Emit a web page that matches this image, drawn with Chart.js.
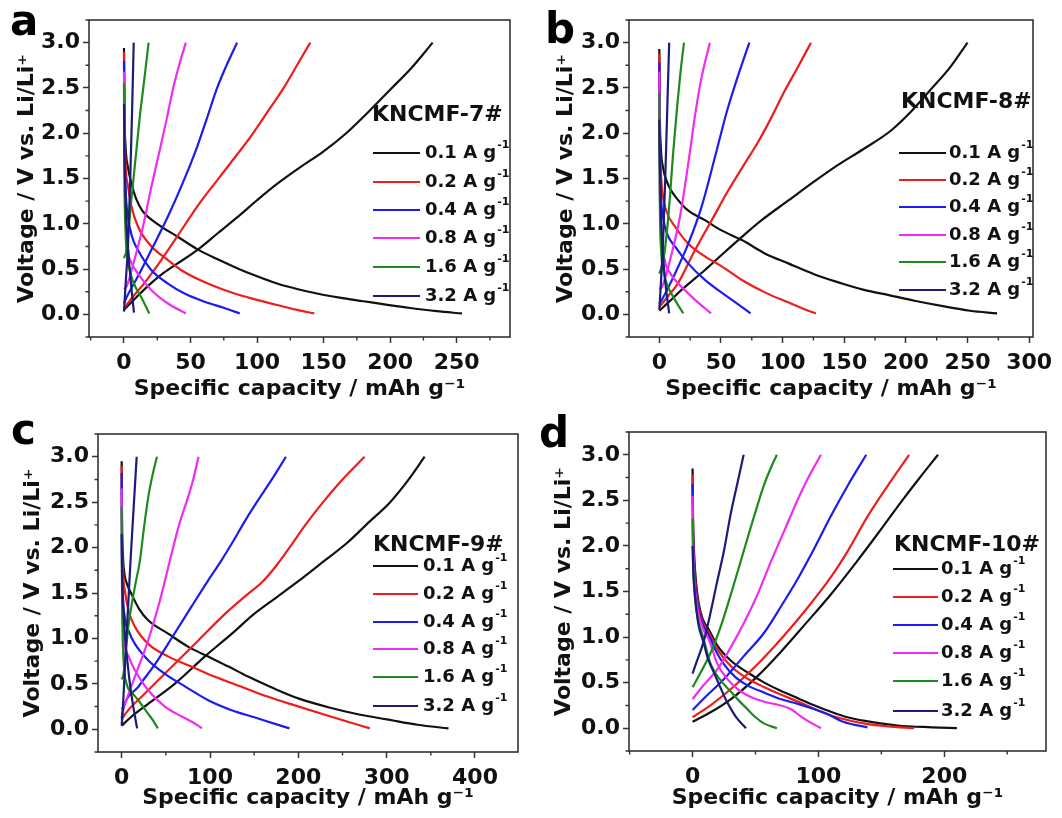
<!DOCTYPE html>
<html><head><meta charset="utf-8">
<script src="https://cdn.jsdelivr.net/npm/chart.js@4"></script>
<style>
html,body{margin:0;padding:0;background:#fff;}
#wrap{position:relative;width:1062px;height:818px;overflow:hidden;}
canvas{position:absolute;}
</style></head><body>
<div id="wrap">
<canvas id="ca" width="531" height="409" style="left:0;top:0"></canvas>
<canvas id="cb" width="531" height="409" style="left:531px;top:0"></canvas>
<canvas id="cc" width="531" height="409" style="left:0;top:409px"></canvas>
<canvas id="cd" width="531" height="409" style="left:531px;top:409px"></canvas>
</div>
<script>
// ---------- data ----------
const rates = ['0.1', '0.2', '0.4', '0.8', '1.6', '3.2'];
const sampleNames = ['KNCMF-7#', 'KNCMF-8#', 'KNCMF-9#', 'KNCMF-10#'];
const panelLetters = ['a', 'b', 'c', 'd'];
const yTickLabels = [0.0, 0.5, 1.0, 1.5, 2.0, 2.5, 3.0];
const xTicksA = [0, 50, 100, 150, 200, 250];
const xTicksB = [0, 50, 100, 150, 200, 250, 300];
const xTicksC = [0, 100, 200, 300, 400];
const xTicksD = [0, 100, 200];
const yTitle = 'Voltage / V vs. Li/Li\u207A';
const xTitle = 'Specific capacity / mAh g\u207B\u00B9';

// panel a (KNCMF-7#): discharge / charge, order = rates
const disA = [
  [[0,2.94],[0.3,2.3],[1.2,1.85],[3,1.62],[5.5,1.45],[9,1.28],[14,1.14],[25,1.0],[40,0.86],[55,0.72],[70,0.61],[85,0.51],[100,0.42],[115,0.34],[130,0.28],[145,0.23],[162,0.185],[180,0.145],[198,0.105],[215,0.07],[235,0.035],[254,0.01]],
  [[0,2.9],[0.3,2.2],[1.2,1.65],[3,1.42],[5.5,1.2],[10.5,0.97],[20,0.76],[33,0.6],[45,0.47],[63,0.34],[83,0.23],[100,0.16],[116,0.1],[130,0.05],[143,0.01]],
  [[0,2.8],[0.3,2.0],[1.2,1.4],[3,1.08],[6,0.86],[10.5,0.71],[20.5,0.49],[33,0.34],[45.5,0.23],[60.5,0.14],[75.5,0.07],[87,0.01]],
  [[0,2.68],[0.3,1.8],[1.2,1.1],[3,0.71],[6,0.56],[10.5,0.45],[20.5,0.27],[33,0.12],[46.5,0.01]],
  [[0,2.55],[0.3,1.6],[1.2,0.9],[3,0.6],[5.5,0.42],[9,0.29],[13,0.19],[19,0.01]],
  [[0,2.32],[0.4,1.8],[1.2,1.25],[2.5,0.85],[4,0.55],[5.5,0.3],[7.5,0.02]]
];
const chgA = [
  [[0,0.05],[10,0.2],[20,0.34],[30,0.46],[40,0.56],[55,0.71],[70,0.89],[85,1.07],[100,1.26],[115,1.44],[132,1.62],[150,1.8],[167,2.0],[184,2.24],[200,2.48],[216,2.72],[232,3.0]],
  [[0,0.07],[7,0.2],[15,0.34],[28,0.6],[40,0.86],[55,1.19],[70,1.48],[80,1.67],[89,1.84],[98,2.02],[109,2.26],[120,2.5],[130,2.75],[140,3.0]],
  [[0,0.12],[2,0.19],[10.5,0.42],[20.5,0.71],[33,1.08],[43,1.41],[54,1.81],[62,2.15],[70,2.5],[78,2.78],[85,3.0]],
  [[0,0.28],[2,0.31],[7.8,0.6],[14.3,0.97],[20.6,1.41],[26.8,1.81],[32,2.15],[37,2.5],[42,2.78],[46.5,3.0]],
  [[0,0.62],[2,0.72],[5.5,1.26],[9.3,1.81],[12,2.2],[14.5,2.5],[16.5,2.75],[18.5,3.0]],
  [[0,0.03],[1.5,0.4],[3,0.75],[4.5,1.4],[6,2.2],[7.3,3.0]]
];
// panel b (KNCMF-8#)
const disB = [
  [[0,2.93],[0.3,2.3],[1.2,1.85],[3,1.62],[6,1.47],[9,1.38],[13,1.3],[23,1.15],[37,1.04],[50,0.93],[67,0.82],[86,0.67],[105,0.56],[126,0.44],[146,0.35],[166,0.27],[187,0.21],[207,0.15],[230,0.09],[252,0.04],[274,0.01]],
  [[0,2.88],[0.3,2.1],[1.2,1.6],[3,1.3],[6,1.13],[12.7,0.97],[23.5,0.78],[37,0.64],[50.6,0.53],[67,0.38],[86,0.24],[105,0.13],[117,0.06],[127,0.01]],
  [[0,2.78],[0.3,1.9],[1.2,1.35],[3,1.08],[6,0.9],[12.7,0.75],[23.5,0.56],[37,0.38],[50.6,0.24],[64,0.11],[74,0.01]],
  [[0,2.68],[0.3,1.6],[1.2,1.0],[4.6,0.59],[9,0.45],[15.4,0.34],[29,0.16],[42,0.01]],
  [[0,2.45],[0.3,1.4],[1.5,0.7],[3.5,0.48],[6,0.34],[12.7,0.16],[19.5,0.01]],
  [[0,2.15],[0.4,1.7],[1.2,1.15],[2.5,0.75],[4.5,0.4],[6,0.22],[8,0.01]]
];
const chgB = [
  [[0,0.04],[8,0.14],[18,0.27],[37,0.49],[50,0.65],[64,0.82],[83,1.04],[105,1.26],[126,1.47],[145,1.65],[165,1.82],[188,2.03],[205,2.25],[220,2.48],[236,2.73],[250,3.0]],
  [[0,0.08],[7,0.2],[15,0.34],[29,0.71],[42.5,1.04],[56,1.37],[69.5,1.67],[80,1.9],[90,2.15],[101,2.45],[112,2.72],[123,3.0]],
  [[0,0.12],[2,0.16],[12.7,0.45],[23.5,0.78],[34.3,1.19],[46.5,1.81],[55,2.25],[63,2.6],[73,3.0]],
  [[0,0.28],[2,0.3],[10,0.67],[16.8,1.08],[25,1.81],[29,2.2],[34,2.6],[41,3.0]],
  [[0,0.45],[3.3,0.6],[7.3,1.08],[11.4,1.81],[14.5,2.3],[17,2.65],[20,3.0]],
  [[0,0.05],[1.5,0.4],[3,0.8],[4.8,1.5],[6.5,2.3],[8,3.0]]
];
// panel c (KNCMF-9#)
const disC = [
  [[0,2.95],[0.4,2.3],[1.5,1.9],[3,1.72],[6,1.6],[11,1.49],[20,1.32],[30,1.2],[53,1.05],[75,0.91],[98,0.8],[121,0.69],[143,0.58],[170,0.46],[200,0.34],[235,0.24],[270,0.16],[300,0.11],[335,0.05],[370,0.01]],
  [[0,2.9],[0.4,2.2],[1.5,1.75],[4,1.5],[8,1.3],[15,1.13],[30,0.94],[53,0.8],[79,0.69],[105,0.58],[135,0.47],[165,0.36],[197,0.26],[230,0.16],[257,0.08],[281,0.01]],
  [[0,2.82],[0.3,2.1],[1.2,1.55],[3.4,1.24],[8,1.08],[15,0.94],[30,0.76],[49,0.61],[72,0.47],[98,0.32],[124.5,0.21],[151,0.13],[173.5,0.06],[190,0.01]],
  [[0,2.65],[0.3,1.9],[1.2,1.25],[3.4,0.94],[8,0.8],[15,0.65],[30,0.43],[49,0.25],[68,0.14],[80,0.08],[91,0.01]],
  [[0,2.45],[0.3,1.7],[1.5,0.9],[5.6,0.5],[12,0.4],[18.8,0.32],[30,0.17],[36,0.09],[41,0.01]],
  [[0,2.15],[0.5,1.7],[2,1.3],[4,1.0],[7,0.7],[10,0.45],[14,0.2],[17.5,0.01]]
];
const chgC = [
  [[0,0.04],[10,0.13],[30,0.28],[60,0.5],[94,0.8],[124.5,1.05],[150,1.27],[175,1.45],[200,1.63],[225,1.82],[255,2.05],[280,2.28],[304,2.5],[325,2.75],[343,3.0]],
  [[0,0.1],[2,0.14],[26,0.39],[57,0.69],[87,0.98],[117,1.27],[143,1.49],[160,1.63],[175,1.8],[190,2.0],[208,2.25],[228,2.5],[250,2.75],[275,3.0]],
  [[0,0.12],[2,0.23],[19,0.47],[38,0.72],[57,1.01],[79,1.35],[98,1.64],[113,1.86],[125,2.05],[140,2.3],[153,2.5],[170,2.75],[186,3.0]],
  [[0,0.22],[2,0.25],[15,0.58],[30,0.98],[43.4,1.42],[54.7,1.86],[65,2.25],[75,2.55],[81,2.75],[87,3.0]],
  [[0,0.55],[2,0.6],[7.5,1.13],[15,1.57],[20.7,1.86],[25,2.2],[30,2.55],[35,2.8],[40,3.0]],
  [[0,0.04],[2,0.35],[4,0.75],[7,1.3],[10,1.85],[13,2.35],[17,3.0]]
];
// panel d (KNCMF-10#)
const disD = [
  [[0,2.85],[0.4,2.3],[1.5,1.85],[3,1.57],[5,1.36],[8,1.2],[13,1.08],[20,0.9],[30.5,0.74],[45,0.6],[57,0.5],[70,0.41],[83.6,0.33],[97,0.25],[110,0.18],[123,0.12],[137,0.08],[163,0.03],[190,0.01],[210,0.0]],
  [[0,2.78],[0.4,2.2],[1.5,1.75],[3,1.5],[5,1.32],[8,1.17],[13,1.05],[20,0.86],[30.5,0.68],[43,0.55],[57,0.45],[70,0.37],[84,0.29],[97,0.21],[110,0.14],[123,0.09],[137,0.05],[155,0.02],[176,0.0]],
  [[0,2.68],[0.4,2.1],[1.5,1.68],[3,1.45],[5,1.28],[8,1.14],[13,1.02],[18,0.86],[25,0.7],[34,0.56],[43.5,0.47],[57,0.39],[70,0.32],[83,0.27],[96.5,0.21],[108,0.15],[118,0.08],[128,0.04],[139,0.01]],
  [[0,2.55],[0.4,2.0],[1.5,1.6],[3,1.4],[5,1.24],[8,1.1],[13,0.97],[19.9,0.7],[27,0.55],[35.8,0.43],[45,0.35],[57,0.29],[67,0.26],[78,0.21],[85,0.14],[91.4,0.08],[102,0.0]],
  [[0,2.3],[0.4,1.85],[1.5,1.5],[3,1.3],[5,1.15],[8,1.02],[14.5,0.7],[22,0.53],[30.5,0.4],[37,0.3],[43.5,0.21],[50,0.12],[57,0.05],[67,0.0]],
  [[0,2.0],[0.5,1.75],[2,1.45],[4.5,1.15],[8.8,0.94],[12,0.77],[16.7,0.62],[22,0.45],[27.3,0.29],[31,0.2],[35.2,0.11],[42.4,0.0]]
];
const chgD = [
  [[0,0.07],[15,0.18],[30.5,0.32],[50,0.55],[70.3,0.84],[90,1.15],[110,1.47],[130,1.82],[148,2.15],[165,2.47],[180,2.74],[195,3.0]],
  [[0,0.12],[15,0.26],[30.5,0.43],[50,0.68],[70.3,0.98],[90,1.3],[110,1.66],[124,1.96],[138,2.3],[155,2.66],[172,3.0]],
  [[0,0.2],[10,0.34],[25,0.54],[40,0.78],[57,1.05],[70,1.33],[83.6,1.64],[97,1.98],[110,2.33],[124,2.68],[138,3.0]],
  [[0,0.32],[8,0.46],[19.9,0.65],[30,0.88],[41,1.16],[52,1.48],[62,1.82],[73,2.17],[83.6,2.51],[92,2.75],[102,3.0]],
  [[0,0.45],[6,0.6],[14.5,0.83],[22,1.1],[30,1.45],[38,1.82],[45.9,2.19],[51,2.42],[56.5,2.66],[62,2.85],[67,3.0]],
  [[0,0.6],[3,0.72],[8.8,0.95],[14,1.25],[19.4,1.6],[25,1.95],[30,2.33],[35,2.65],[40.6,3.0]]
];

// ---------- styles / layout ----------
const colors = ['#111111', '#f01c1c', '#1c1cf0', '#f02cf0', '#1e8a1e', '#1c1c78'];
const FONT = 'DejaVu Sans';

const panels = [
  {id:'ca', dis:disA, chg:chgA, xMin:-26.3, xMax:290.1, xStep:25, xMajor:xTicksA,
   yW:89, xH:72, pad:{left:0, top:20, right:21, bottom:0}, yTPad:14,
   letterPos:[10,35], leg:{tx:372, ty:115, rows:[153,182,210,238,267,296], s0:373, s1:420, t:425}},
  {id:'cb', dis:disB, chg:chgB, xMin:-24.6, xMax:303.1, xStep:25, xMajor:xTicksB,
   yW:98, xH:72, pad:{left:0, top:20, right:29, bottom:0}, yTPad:22,
   letterPos:[14,43], leg:{tx:370, ty:102, rows:[153,180,207,235,262,290], s0:368, s1:415, t:418}},
  {id:'cc', dis:disC, chg:chgC, xMin:-26.8, xMax:448.7, xStep:50, xMajor:xTicksC,
   yW:98, xH:66, pad:{left:0, top:25, right:13, bottom:0}, yTPad:20,
   letterPos:[11,35], leg:{tx:373, ty:136, rows:[157,185,213,240,268,297], s0:373, s1:418, t:423}},
  {id:'cd', dis:disD, chg:chgD, xMin:-50.5, xMax:280.8, xStep:50, xMajor:xTicksD,
   yW:98, xH:67, pad:{left:0, top:23, right:16, bottom:0}, yTPad:20,
   letterPos:[8,38], leg:{tx:363, ty:136, rows:[160,188,216,244,272,302], s0:362, s1:407, t:410}}
];

const near = (list, v) => list.some(t => Math.abs(t - v) < 1e-6);

const decor = {
  id: 'decor',
  afterDraw(chart, args, o) {
    const {ctx, chartArea: ca} = chart;
    const xs = chart.scales.x, ys = chart.scales.y;
    ctx.save();
    // frame
    ctx.strokeStyle = '#333'; ctx.lineWidth = 1.6;
    ctx.strokeRect(ca.left, ca.top, ca.right - ca.left, ca.bottom - ca.top);
    // minor ticks
    ctx.lineWidth = 1.4; ctx.beginPath();
    xs.ticks.forEach(t => { if (!near(o.xMajor, t.value)) { const p = xs.getPixelForValue(t.value); ctx.moveTo(p, ca.bottom); ctx.lineTo(p, ca.bottom + 3.5); } });
    ys.ticks.forEach(t => { if (!near(yTickLabels, t.value)) { const p = ys.getPixelForValue(t.value); ctx.moveTo(ca.left, p); ctx.lineTo(ca.left - 3.5, p); } });
    ctx.stroke();
    // panel letter
    ctx.fillStyle = '#000'; ctx.textBaseline = 'alphabetic'; ctx.textAlign = 'left';
    ctx.font = 'bold 42px "' + FONT + '"';
    ctx.fillText(o.letter, o.letterPos[0], o.letterPos[1]);
    // legend
    const L = o.leg;
    ctx.textBaseline = 'middle';
    ctx.font = 'bold 22px "' + FONT + '"';
    ctx.fillStyle = '#111';
    ctx.fillText(o.name, L.tx, L.ty);
    rates.forEach((r, i) => {
      const y = L.rows[i];
      ctx.strokeStyle = colors[i]; ctx.lineWidth = 2.2;
      ctx.beginPath(); ctx.moveTo(L.s0, y); ctx.lineTo(L.s1, y); ctx.stroke();
      ctx.fillStyle = '#111';
      ctx.font = 'bold 18px "' + FONT + '"';
      const main = r + ' A g';
      ctx.fillText(main, L.t, y);
      const w = ctx.measureText(main).width;
      ctx.font = 'bold 11px "' + FONT + '"';
      ctx.fillText('-1', L.t + w + 1, y - 8);
    });
    ctx.restore();
  }
};

function buildDatasets(dis, chg) {
  const ds = [];
  rates.forEach((r, i) => {
    [dis[i], chg[i]].forEach((arr, k) => {
      ds.push({
        label: r + ' A g\u207B\u00B9 ' + (k ? 'charge' : 'discharge'),
        data: arr.map(p => ({x: p[0], y: p[1]})),
        borderColor: colors[i], backgroundColor: colors[i],
        borderWidth: 2.2, pointRadius: 0, showLine: true,
        cubicInterpolationMode: 'monotone',
        fill: false, order: 5 - i
      });
    });
  });
  return ds;
}

panels.forEach((P, idx) => {
  const tickFont = {family: FONT, size: 22, weight: 'bold'};
  const titleFont = {family: FONT, size: 22, weight: 'bold'};
  new Chart(document.getElementById(P.id), {
    type: 'scatter',
    data: {datasets: buildDatasets(P.dis, P.chg)},
    plugins: [decor],
    options: {
      responsive: false, animation: false, events: [],
      layout: {padding: P.pad},
      plugins: {
        legend: {display: false}, tooltip: {enabled: false},
        decor: {xMajor: P.xMajor, letter: panelLetters[idx], letterPos: P.letterPos, name: sampleNames[idx], leg: P.leg}
      },
      scales: {
        x: {
          type: 'linear', min: P.xMin, max: P.xMax,
          afterFit: s => { s.height = P.xH; },
          border: {display: false},
          grid: {drawOnChartArea: false, drawTicks: true, tickLength: 6, tickWidth: 1.5,
                 tickColor: c => near(P.xMajor, c.tick.value) ? '#333' : 'rgba(0,0,0,0)'},
          ticks: {stepSize: P.xStep, includeBounds: false, autoSkip: false, maxRotation: 0, minRotation: 0,
                  padding: 7, color: '#111', font: tickFont,
                  callback: v => near(P.xMajor, v) ? String(Math.round(v)) : ''},
          title: {display: true, text: xTitle, color: '#111', font: titleFont, padding: {top: 0, bottom: 7}}
        },
        y: {
          type: 'linear', min: -0.25, max: 3.25,
          afterFit: s => { s.width = P.yW; },
          border: {display: false},
          grid: {drawOnChartArea: false, drawTicks: true, tickLength: 6, tickWidth: 1.5,
                 tickColor: c => near(yTickLabels, c.tick.value) ? '#333' : 'rgba(0,0,0,0)'},
          ticks: {stepSize: 0.25, includeBounds: false, autoSkip: false, padding: 3, color: '#111', font: tickFont,
                  callback: v => near(yTickLabels, v) ? v.toFixed(1) : ''},
          title: {display: true, text: yTitle, color: '#111', font: titleFont, padding: {top: P.yTPad, bottom: 0}}
        }
      }
    }
  });
});
</script>
</body></html>
